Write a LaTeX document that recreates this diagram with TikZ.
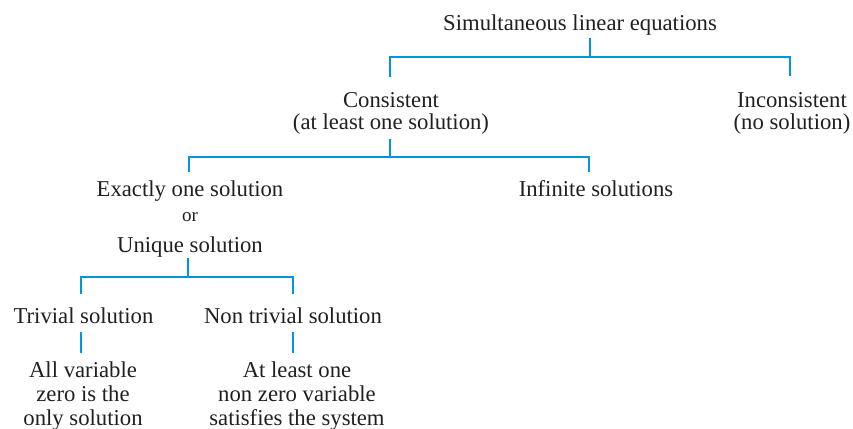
\documentclass[tikz,border=0pt]{standalone}
\usepackage{fontspec}
\setmainfont{Liberation Serif}
\definecolor{lineblue}{RGB}{0,150,222}
\definecolor{inkgrey}{RGB}{35,31,32}
\tikzset{
	txt/.style={inner sep=0pt, outer sep=0pt, align=center, anchor=base, text=inkgrey,
		font=\fontsize{11.35}{11}\selectfont},
	txtlow/.style={txt, font=\fontsize{11.35}{12}\selectfont},
	small/.style={txt, font=\fontsize{9.5}{10}\selectfont},
	link/.style={draw=lineblue, line width=1.35pt}
}

\begin{document}
\begin{tikzpicture}[x=0.5pt, y=-0.5pt]
	\useasboundingbox (0,0) rectangle (853,429);
	% labels (multi-line ones sit on their last line)
	\node[txt] (root) at (580,30) {Simultaneous linear equations};
	\node[txt] (cons) at (391,129) {Consistent\\(at least one solution)};
	\node[txt] (incons) at (792,129) {Inconsistent\\(no solution)};
	\node[txt] (exact) at (190,196) {Exactly one solution};
	\node[small] (or) at (190,221) {or};
	\node[txt] (unique) at (190,252) {Unique solution};
	\node[txt] (inf) at (596,196) {Infinite solutions};
	\node[txt] (triv) at (83.5,323) {Trivial solution};
	\node[txt] (nontriv) at (293,323) {Non trivial solution};
	\node[txtlow] (allvar) at (83,425) {All variable\\zero is the\\only solution};
	\node[txtlow] (atleast) at (297,425) {At least one\\non zero variable\\satisfies the system};
	% junctions
	\coordinate (j1) at (590,57);
	\coordinate (j2) at (390,157);
	\coordinate (j3) at (188,277);
	% brackets
	\draw[link, shorten <=1.5pt] (j1 |- root.south) -- (j1);
	\draw[link, shorten >=7.5pt] (j1) -| ([xshift=-0.5pt]cons.north);
	\draw[link, shorten >=8pt] (j1) -| ([xshift=-1pt]incons.north);
	\draw[link, shorten <=2.5pt] (j2 |- cons.south) -- (j2);
	\draw[link, shorten >=4.3pt] (j2) -| ([xshift=-0.5pt]exact.north);
	\draw[link, shorten >=3.8pt] (j2) -| ([xshift=-3.5pt]inf.north);
	\draw[link, shorten <=0.5pt] (j3 |- unique.south) -- (j3);
	\draw[link, shorten >=6.5pt] (j3) -| ([xshift=-1.2pt]triv.north);
	\draw[link, shorten >=6.5pt] (j3) -| (nontriv.north);
	\draw[link, shorten <=4.5pt, shorten >=4.3pt] ([xshift=-1.2pt]triv.south) -- ([xshift=-1.2pt]triv.south |- allvar.north);
	\draw[link, shorten <=4.5pt, shorten >=4.3pt] (nontriv.south) -- (nontriv.south |- atleast.north);
\end{tikzpicture}
\end{document}
